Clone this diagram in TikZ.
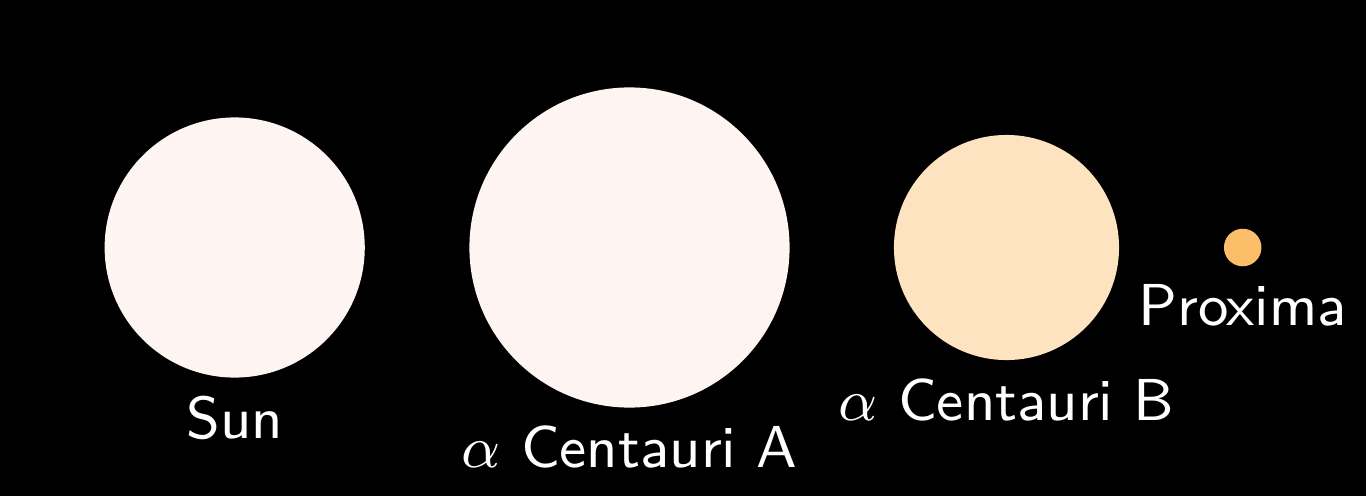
\documentclass[tikz,border=0pt]{standalone}
\usepackage{graphicx}
\usetikzlibrary{positioning}
\definecolor{sunwhite}{HTML}{FEF4F1}
\definecolor{kwhite}{HTML}{FDE3C0}
\definecolor{morange}{HTML}{FDBE69}
\newcommand{\starname}[1]{\scalebox{1.87}{#1}}
\tikzstyle{star}=[circle,inner sep=0pt,draw=none]
\tikzstyle{starlabel}=[text=white,inner sep=0pt,font=\sffamily\fontsize{9}{11}\selectfont]

\begin{document}
\begin{tikzpicture}[x=0.01cm,y=0.01cm]
    \fill[black] (0,0) rectangle (1366,496);

    \node[star,fill=sunwhite,minimum size=2.6cm] (sun) at (234.7,248.5) {};
    \node[star,fill=sunwhite,minimum size=3.2cm] (cenA) at (629.5,248.5) {};
    \node[star,fill=kwhite,minimum size=2.25cm] (cenB) at (1006.5,248.5) {};
    \node[star,fill=morange,minimum size=0.375cm] (prox) at (1242.7,248.5) {};

    \node[starlabel,below=0.17cm of sun] (sunname) {\starname{Sun}};
    \node[starlabel,below=0.17cm of cenA] (cenAname) {\starname{$\alpha$ Centauri A}};
    \node[starlabel,below=0.17cm of cenB] (cenBname) {\starname{$\alpha$ Centauri B}};
    \node[starlabel,below=0.17cm of prox] (proxname) {\starname{Proxima}};
  \end{tikzpicture}
\end{document}
